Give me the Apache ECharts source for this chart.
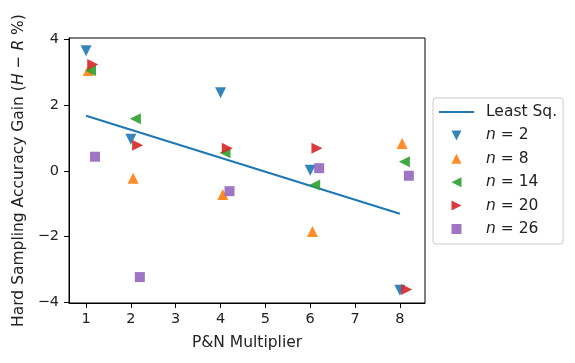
<!DOCTYPE html>
<html>
<head>
<meta charset="utf-8">
<script src="https://cdn.jsdelivr.net/npm/echarts@6/dist/echarts.min.js"></script>
<style>
  html, body { margin: 0; padding: 0; background: #fff; }
  #chart { width: 575px; height: 363px; }
</style>
</head>
<body>
<div id="chart"></div>
<script>
// data
var multipliers = [1, 2, 4, 6, 8];
var seriesNames = ['n=2', 'n=8', 'n=14', 'n=20', 'n=26'];
var jitter = [0, 0.05, 0.1, 0.15, 0.2];
var gainN2  = [3.66, 0.96, 2.38, 0.02, -3.64];
var gainN8  = [3.06, -0.23, -0.72, -1.85, 0.83];
var gainN14 = [3.06, 1.59, 0.55, -0.43, 0.28];
var gainN20 = [3.24, 0.78, 0.69, 0.69, -3.62];
var gainN26 = [0.43, -3.24, -0.62, 0.08, -0.15];
var lsqX = [1, 8];
var lsqY = [1.68, -1.31];
var xTicks = [1, 2, 3, 4, 5, 6, 7, 8];
var yTicks = [-4, -2, 0, 2, 4];

var allGains = [gainN2, gainN8, gainN14, gainN20, gainN26];
var colors = ['#1f77b4', '#ff7f0e', '#2ca02c', '#d62728', '#9467bd'];
var symbols = [
    'path://M0,0 L10,0 L5,10 Z',   // down
    'path://M5,0 L10,10 L0,10 Z',  // up
    'path://M0,5 L10,0 L10,10 Z',  // left
    'path://M0,0 L10,5 L0,10 Z',   // right
    'path://M0,0 L10,0 L10,10 L0,10 Z'
];
var sizes = [11, 11, 11, 11, 10];

var chart = echarts.init(document.getElementById('chart'));
var font = 'DejaVu Sans';
var txt = '#222';

var series = [{
    name: 'Least Sq.',
    type: 'line',
    data: lsqX.map(function (x, i) { return [x, lsqY[i]]; }),
    symbol: 'none',
    lineStyle: { color: '#1f77b4', width: 2 },
    itemStyle: { color: '#1f77b4' },
    z: 1
}];
for (var k = 0; k < seriesNames.length; k++) {
    series.push({
        name: seriesNames[k],
        type: 'scatter',
        data: multipliers.map(function (x, i) { return [x + jitter[k], allGains[k][i]]; }),
        symbol: symbols[k],
        symbolSize: sizes[k],
        itemStyle: { color: colors[k], opacity: 0.9 },
        z: 2 + k
    });
}

function minus(v) { return String(v).replace('-', '\u2212'); }

var legendData = [{
    name: 'Least Sq.',
    itemStyle: { color: 'rgba(0,0,0,0)', borderColor: 'rgba(0,0,0,0)', borderWidth: 0 }
}].concat(seriesNames.map(function (n) { return { name: n }; }));

var option = {
    backgroundColor: '#fff',
    animation: false,
    grid: {
        left: 69, top: 38, width: 356, height: 265,
        show: true, borderColor: '#000', borderWidth: 1
    },
    xAxis: {
        type: 'value',
        min: 0.62, max: 8.56,
        name: 'P&N Multiplier',
        nameLocation: 'middle',
        nameGap: 32,
        nameTextStyle: { fontFamily: font, fontSize: 15.5, color: txt },
        axisLine: { show: true, onZero: false, lineStyle: { color: '#000', width: 1 } },
        axisTick: { show: true, inside: false, length: 5, customValues: xTicks, lineStyle: { color: '#000' } },
        axisLabel: { customValues: xTicks, fontFamily: font, fontSize: 14.5, color: txt, margin: 9 },
        splitLine: { show: false }
    },
    yAxis: {
        type: 'value',
        min: -4.03, max: 4.05,
        name: '{a|Hard Sampling Accuracy Gain (}{i|H}{a| \u2212 }{i|R}{a| %)}',
        nameLocation: 'middle',
        nameGap: 41,
        nameTextStyle: {
            rich: {
                a: { fontFamily: font, fontSize: 15.5, color: txt },
                i: { fontFamily: font, fontSize: 15.5, fontStyle: 'italic', color: txt }
            }
        },
        axisLine: { show: true, onZero: false, lineStyle: { color: '#000', width: 1 } },
        axisTick: { show: true, inside: false, length: 5, customValues: yTicks, lineStyle: { color: '#000' } },
        axisLabel: {
            customValues: yTicks, fontFamily: font, fontSize: 14.5, color: txt, margin: 10,
            formatter: function (v) { return minus(v); }
        },
        splitLine: { show: false }
    },
    legend: {
        orient: 'vertical',
        left: 433, top: 98,
        padding: [6, 6, 7, 5],
        itemGap: 7.4,
        itemWidth: 35, itemHeight: 10,
        borderColor: '#ccc', borderWidth: 1, borderRadius: 3,
        backgroundColor: '#fff',
        data: legendData,
        formatter: function (name) {
            if (name === 'Least Sq.') return '{a|' + name + '}';
            return '{i|n}{a| = ' + name.slice(2) + '}';
        },
        textStyle: {
            padding: [0, 0, 0, 7],
            rich: {
                a: { fontFamily: font, fontSize: 15.5, color: txt, lineHeight: 18 },
                i: { fontFamily: font, fontSize: 15.5, fontStyle: 'italic', color: txt, lineHeight: 18 }
            }
        }
    },
    series: series
};
chart.setOption(option);
</script>
</body>
</html>
